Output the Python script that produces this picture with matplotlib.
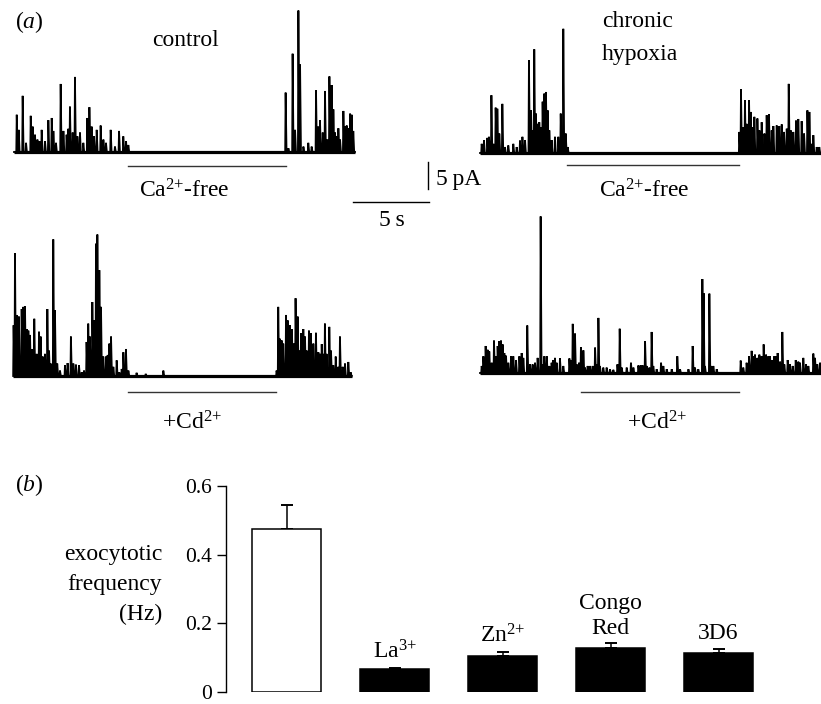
import numpy as np
import matplotlib
matplotlib.use('Agg')
import matplotlib.pyplot as plt

plt.rcParams['font.family'] = ['Liberation Serif', 'DejaVu Serif']
plt.rcParams['mathtext.fontset'] = 'custom'
plt.rcParams['mathtext.rm'] = 'Liberation Serif'
plt.rcParams['mathtext.it'] = 'Liberation Serif:italic'

# ---------------- data: panel (a) spike traces (time s, amplitude pA) ----------------
ctrl_ca_t = [0.18, 0.31, 0.57, 0.79, 1.10, 1.23, 1.38, 1.54, 1.67, 1.82, 2.04, 2.26, 2.48, 2.59,
             2.76, 3.07, 3.25, 3.46, 3.57, 3.68, 3.86, 4.01, 4.17, 4.34, 4.56, 4.82, 4.96, 5.11,
             5.26, 5.44, 5.70, 5.88, 6.05, 6.36, 6.64, 6.91, 7.19, 7.37, 7.52,
             17.87, 18.05, 18.33, 18.49, 18.71, 18.82, 19.04, 19.36, 19.58, 19.87, 20.02, 20.13,
             20.31, 20.46, 20.61, 20.75, 20.90, 21.01, 21.12, 21.23, 21.34, 21.45, 21.67, 21.78,
             21.89, 22.00, 22.11, 22.21, 22.32]
ctrl_ca_a = [6.9, 4.1, 10.4, 1.7, 6.7, 4.7, 3.2, 2.3, 2.0, 4.1, 2.0, 5.9, 6.3, 3.9,
             1.7, 12.6, 3.9, 3.2, 4.3, 8.4, 3.6, 13.9, 2.9, 3.6, 1.7, 6.3, 8.3, 4.7,
             2.9, 4.1, 4.9, 2.3, 1.7, 4.1, 1.0, 3.9, 2.9, 2.0, 1.3,
             11.0, 0.7, 18.2, 4.1, 26.2, 16.2, 1.0, 1.7, 1.0, 11.4, 4.7, 5.9,
             3.6, 11.3, 2.3, 14.0, 12.4, 7.9, 3.6, 2.9, 4.4, 2.3, 7.6, 4.7,
             4.9, 4.4, 7.1, 6.9, 3.9]

hyp_ca_t = [0.11, 0.26, 0.48, 0.59, 0.75, 0.88, 1.03, 1.14, 1.27, 1.47, 1.64, 1.86, 2.19, 2.41,
            2.63, 2.79, 2.96, 3.22, 3.36, 3.44, 3.57, 3.68, 3.79, 3.90, 4.01, 4.12, 4.23, 4.34,
            4.45, 4.56, 4.71, 4.93, 5.15, 5.31, 5.48, 5.64, 5.77,
            17.06, 17.17, 17.32, 17.43, 17.54, 17.70, 17.81, 17.94, 18.05, 18.25, 18.38, 18.53,
            18.71, 18.86, 19.01, 19.19, 19.30, 19.52, 19.69, 19.85, 20.00, 20.18, 20.31, 20.44,
            20.61, 20.79, 20.94, 21.16, 21.32, 21.54, 21.67, 21.82, 21.93, 22.15, 22.32]
hyp_ca_a = [1.7, 2.4, 2.8, 3.0, 10.7, 1.7, 8.4, 8.2, 3.6, 9.1, 1.1, 1.4, 1.7, 1.1,
            2.3, 3.0, 2.4, 17.2, 7.9, 4.2, 19.2, 7.3, 5.4, 5.7, 4.8, 9.5, 11.0, 11.3,
            7.9, 4.2, 2.4, 3.0, 3.0, 7.3, 23.0, 3.6, 1.1,
            3.9, 11.8, 4.8, 9.8, 5.4, 9.8, 7.6, 4.8, 6.7, 6.4, 4.2, 5.7,
            3.6, 7.0, 7.2, 4.2, 5.0, 5.1, 5.0, 5.3, 3.9, 4.5, 12.8, 4.2,
            3.9, 6.0, 6.3, 5.9, 3.6, 7.9, 7.6, 1.7, 3.3, 1.1, 1.1]

ctrl_cd_t = [0.02, 0.11, 0.22, 0.37, 0.55, 0.66, 0.77, 0.88, 0.99, 1.10, 1.25, 1.38, 1.54, 1.69,
             1.80, 1.93, 2.08, 2.24, 2.35, 2.46, 2.63, 2.74, 2.89, 3.07, 3.40, 3.57, 3.79, 3.95,
             4.12, 4.32, 4.50, 4.65, 4.82, 4.93, 5.04, 5.20, 5.33, 5.44, 5.53, 5.66, 5.77, 5.92,
             6.10, 6.21, 6.32, 6.43, 6.58, 6.80, 6.97, 7.13, 7.24, 7.41, 7.57, 8.11, 8.71, 9.87,
             17.32, 17.43, 17.54, 17.65, 17.76, 17.94, 18.05, 18.20, 18.33, 18.46, 18.57, 18.71,
             18.82, 18.93, 19.08, 19.19, 19.30, 19.45, 19.58, 19.74, 19.91, 20.07, 20.18, 20.29,
             20.39, 20.50, 20.61, 20.79, 20.90, 21.05, 21.21, 21.38, 21.49, 21.67, 21.82, 22.04,
             22.19]
ctrl_cd_a = [9.4, 22.7, 11.3, 11.0, 12.4, 12.8, 12.9, 8.7, 8.4, 7.6, 5.0, 10.6, 4.1, 8.2,
             7.3, 3.6, 4.1, 12.4, 4.7, 2.3, 25.3, 12.2, 2.3, 1.0, 2.0, 2.4, 7.3, 2.3,
             2.1, 2.0, 0.7, 1.0, 6.3, 9.7, 7.3, 13.7, 10.3, 24.5, 26.2, 19.6, 12.8, 3.6,
             3.6, 3.9, 6.0, 7.3, 1.7, 2.9, 0.7, 1.3, 4.4, 5.0, 1.0, 0.6, 0.4, 1.0,
             1.0, 12.8, 6.9, 6.6, 6.0, 11.3, 10.3, 9.4, 8.7, 6.0, 14.4, 11.0,
             4.7, 7.9, 8.7, 7.3, 4.7, 8.4, 7.9, 6.0, 8.0, 4.4, 4.1, 5.9,
             4.1, 9.7, 4.1, 9.1, 4.7, 2.0, 3.6, 1.7, 7.3, 1.7, 2.3, 2.6,
             0.7]

hyp_cd_t = [0.11, 0.22, 0.37, 0.50, 0.61, 0.77, 0.92, 1.05, 1.16, 1.27, 1.38, 1.49, 1.60, 1.71,
            1.86, 2.04, 2.19, 2.37, 2.59, 2.74, 2.85, 3.11, 3.29, 3.46, 3.62, 3.79, 3.99, 4.10,
            4.23, 4.39, 4.56, 4.71, 4.82, 4.93, 5.04, 5.26, 5.48, 5.88, 5.99, 6.10, 6.25, 6.36,
            6.51, 6.64, 6.80, 6.91, 7.08, 7.24, 7.41, 7.57, 7.68, 7.79, 7.89, 8.11, 8.33, 8.55,
            8.77, 9.04, 9.19, 9.32, 9.65, 9.93, 10.09, 10.42, 10.57, 10.70, 10.86, 10.96, 11.14,
            11.29, 11.40, 11.62, 11.91, 12.06, 12.28, 12.61, 12.98, 13.16, 13.71, 13.99, 14.14,
            14.36, 14.63, 14.71, 14.80, 15.09, 15.20, 15.35, 15.57,
            17.15, 17.32, 17.54, 17.70, 17.87, 17.98, 18.09, 18.25, 18.38, 18.53, 18.66, 18.82,
            18.97, 19.08, 19.23, 19.36, 19.45, 19.58, 19.74, 19.89, 20.02, 20.24, 20.39, 20.57,
            20.77, 20.94, 21.05, 21.27, 21.45, 21.60, 21.93, 22.04, 22.19, 22.37]
hyp_cd_a = [1.3, 3.1, 5.0, 4.3, 4.0, 1.9, 6.0, 3.1, 5.0, 5.9, 6.0, 5.3, 3.7, 3.2,
            1.9, 3.1, 3.1, 2.4, 3.1, 3.7, 2.8, 8.8, 1.6, 1.6, 1.9, 2.8, 29.0, 1.6,
            3.1, 3.1, 1.3, 1.9, 2.4, 2.8, 1.9, 2.7, 1.3, 2.7, 2.4, 9.1, 7.3, 1.6,
            1.9, 4.8, 4.2, 1.0, 1.3, 1.3, 1.3, 4.7, 1.6, 10.2, 1.3, 1.0, 1.0, 0.7,
            0.6, 1.6, 8.2, 1.0, 1.0, 1.9, 1.0, 1.4, 1.4, 1.4, 5.9, 1.3, 1.0,
            7.6, 1.3, 0.7, 1.9, 1.3, 0.7, 0.7, 3.1, 0.7, 0.7, 5.0, 1.0,
            0.7, 17.4, 14.8, 1.3, 14.7, 1.3, 1.3, 0.7,
            2.3, 1.0, 1.9, 3.1, 4.1, 3.1, 3.4, 2.8, 3.4, 3.1, 5.3, 3.4,
            3.1, 3.1, 2.4, 3.1, 3.1, 3.7, 2.1, 7.6, 1.6, 2.4, 1.6, 1.3,
            2.4, 2.1, 1.9, 2.8, 1.6, 1.3, 3.6, 2.8, 1.6, 1.9]

trace_durations = [22.43, 22.41, 22.26, 22.41]          # s
solution_periods = [(7.52, 17.89), (5.75, 17.04), (7.57, 17.28), (6.64, 17.04)]  # s
solution_labels = [r"Ca$^{2{+}}$-free", r"Ca$^{2{+}}$-free", r"+Cd$^{2{+}}$", r"+Cd$^{2{+}}$"]

# ---------------- data: panel (b) ----------------
bar_labels = ["", r"La$^{3{+}}$", r"Zn$^{2{+}}$", "Congo\nRed", "3D6"]
bar_means = [0.475, 0.067, 0.104, 0.128, 0.113]
bar_sem = [0.070, 0.004, 0.012, 0.014, 0.012]
bar_fill = ["white", "black", "black", "black", "black"]
y_ticks = [0, 0.2, 0.4, 0.6]
y_ticklabels = ["0", "0.2", "0.4", "0.6"]

# ---------------- layout ----------------
W, H = 821, 704
fig = plt.figure(figsize=(W / 100, H / 100), dpi=100)
PX_S = 15.2     # px per second
PX_PA = 5.4     # px per pA
FS = 17
INK = "black"


def ftext(x, y, s, **kw):
    kw.setdefault('fontsize', FS)
    kw.setdefault('va', 'baseline')
    fig.text(x / W, 1 - y / H, s, color=INK, **kw)


def trace_axes(left, base, dur):
    ymin, ymax = -8.0, 32.0
    ax = fig.add_axes([left / W, 1 - (base - ymin * PX_PA) / H,
                       dur * PX_S / W, (ymax - ymin) * PX_PA / H])
    ax.set_xlim(0, dur)
    ax.set_ylim(ymin, ymax)
    ax.axis('off')
    return ax


def draw_trace(ax, dur, ts, amps, sol, sol_off_px):
    xs, ys = [0.0], [0.0]
    for t, a in sorted(zip(ts, amps)):
        xs += [t - 0.03, t, t + 0.06]
        ys += [0.0, a, 0.0]
    xs.append(dur)
    ys.append(0.0)
    ax.plot([0, dur], [0, 0], color=INK, lw=2.3, solid_capstyle='butt', clip_on=False)
    ax.plot(xs, ys, color=INK, lw=1.3, clip_on=False, solid_joinstyle='miter')
    ax.plot(list(sol), [-sol_off_px / PX_PA] * 2, color='#333333', lw=1.0, clip_on=False)


trace_geom = [(14, 152, 14), (480, 153, 12), (13.3, 376, 16), (480, 373, 19)]
trace_data = [(ctrl_ca_t, ctrl_ca_a), (hyp_ca_t, hyp_ca_a), (ctrl_cd_t, ctrl_cd_a), (hyp_cd_t, hyp_cd_a)]
for (left, base, soff), dur, (ts, amps), sol in zip(trace_geom, trace_durations, trace_data, solution_periods):
    ax = trace_axes(left, base, dur)
    draw_trace(ax, dur, ts, amps, sol, soff)

# solution labels
label_pos = [(184, 197), (644, 197), (192, 429), (657, 429)]
for (x, y), s in zip(label_pos, solution_labels):
    ftext(x, y, s, ha='center')

ftext(15, 28, r"($\mathit{a}$)", ha='left')
ftext(185, 46, "control", ha='center')
ftext(602, 27, "chronic", ha='left')
ftext(602, 60, "hypoxia", ha='left')

# scale bars (5 pA vertical, 5 s horizontal)
sax = fig.add_axes([0, 0, 1, 1], facecolor='none')
sax.set_xlim(0, W)
sax.set_ylim(H, 0)
sax.axis('off')
sax.plot([428, 428], [162, 162 + 5 * PX_PA], color=INK, lw=1.0)
sax.plot([429 - 5 * PX_S, 429], [202, 202], color=INK, lw=1.0)
ftext(436, 185, "5\u2009pA", ha='left')
ftext(392, 226, "5\u2009s", ha='center')

# ---------------- panel (b) ----------------
ftext(15, 491, r"($\mathit{b}$)", ha='left')
ftext(162, 560, "exocytotic", ha='right')
ftext(162, 590, "frequency", ha='right')
ftext(162, 620, "(Hz)", ha='right')

x0_px, step_px = 286.5, 108.0
bl, br, bb, bt = 226, 775, 692, 486
bax = fig.add_axes([bl / W, 1 - bb / H, (br - bl) / W, (bb - bt) / H], facecolor='none')
xpos = np.arange(len(bar_means))
bax.set_xlim(-(x0_px - bl) / step_px, (br - x0_px) / step_px)
bax.set_ylim(0, 0.6)
bax.bar(xpos, bar_means, width=0.63, color=bar_fill, edgecolor=INK, linewidth=1.1, zorder=2)
bax.errorbar(xpos, bar_means, yerr=[np.zeros(len(bar_sem)), bar_sem], fmt='none',
             ecolor=INK, elinewidth=1.1, capsize=4.4, capthick=1.4, zorder=1, clip_on=False)
for x, m, e, lab in zip(xpos, bar_means, bar_sem, bar_labels):
    if lab:
        bax.text(x, m + e + 0.028, lab, ha='center', va='baseline', fontsize=FS,
                 color=INK, linespacing=1.2)
for side in ['top', 'right', 'bottom']:
    bax.spines[side].set_visible(False)
bax.spines['left'].set_linewidth(1.0)
bax.spines['left'].set_bounds(0, 0.6)
bax.set_yticks(y_ticks)
bax.set_yticklabels(y_ticklabels)
bax.tick_params(axis='y', direction='out', length=6.7, width=1.0, pad=3.4, labelsize=15.5)
bax.set_xticks([])

fig.savefig('out.png', dpi=100)
